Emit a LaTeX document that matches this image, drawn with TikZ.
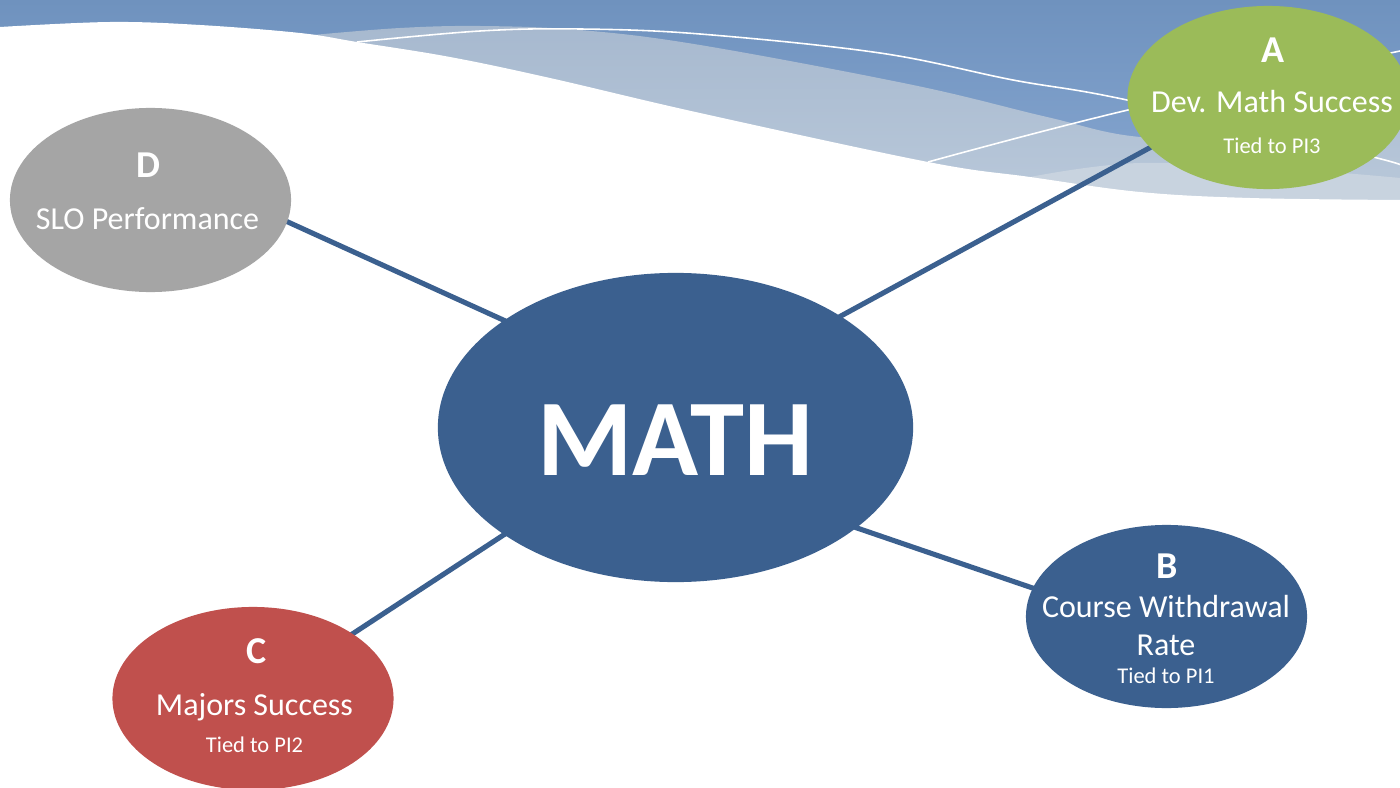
\documentclass[tikz,border=0pt]{standalone}
\usepackage{fontspec}
\setmainfont{Carlito}
\usetikzlibrary{shapes.geometric}
\definecolor{mblue}{HTML}{3B608F}
\definecolor{mgreen}{HTML}{9BBB59}
\definecolor{mred}{HTML}{C0504D}
\definecolor{mgray}{HTML}{A5A5A5}
\definecolor{wtop}{HTML}{6F92BE}
\definecolor{wbot}{HTML}{88A8D2}
\definecolor{bandA}{HTML}{A7B9CF}
\definecolor{bandB}{HTML}{BBCADB}
\definecolor{bandC}{HTML}{C8D3DF}
\pgfdeclarelayer{bg}
\pgfdeclarelayer{lines}
\pgfsetlayers{bg,lines,main}
\tikzset{
  bubble/.style={ellipse, draw=none, inner sep=0pt, outer sep=0pt,
    minimum width=2.81cm, minimum height=1.83cm},
  conn/.style={draw=mblue, line width=1.45pt, shorten <=-10pt, shorten >=-10pt},
  wline/.style={draw=white, line width=0.45pt},
  letter/.style={anchor=base, text=white, inner sep=0pt, font=\fontsize{10.8}{12}\selectfont\bfseries},
  mainlbl/.style={anchor=base, text=white, inner sep=0pt, font=\fontsize{9.1}{11}\selectfont},
  tiedlbl/.style={anchor=base, text=white, inner sep=0pt, font=\fontsize{6.4}{8}\selectfont},
}
\begin{document}
\begin{tikzpicture}[x=0.01cm,y=-0.01cm]
\useasboundingbox (0,0) rectangle (1400,788);
\begin{pgfonlayer}{bg}
\fill[white] (0,0) rectangle (1400,788);
\shade[top color=wtop, bottom color=wbot] (0,0) rectangle (1400,210);
\shade[top color=bandA, bottom color=bandB]
  plot[smooth, tension=0.6] coordinates {(313,35) (400,28) (480,26) (580,30) (700,45) (913,85) (1047,117) (1140,137) (1280,140) (1400,125)}
  -- (1400,220) -- (313,220) -- cycle;
\fill[bandC]
  plot[smooth, tension=0.6] coordinates {(1030,177) (1140,163) (1300,170) (1400,178)}
  -- (1400,220) -- (1030,220) -- cycle;
\fill[white]
  plot[smooth, tension=0.6] coordinates {(0,27) (110,22) (200,25) (300,33) (357,42) (450,57) (550,78) (700,113) (928,162) (1030,177) (1140,192) (1250,198) (1400,200)}
  -- (1400,800) -- (0,800) -- cycle;
\draw[wline] plot[smooth, tension=0.6] coordinates {(357,42) (480,31) (580,29) (700,34) (880,53) (1013,80) (1127,100) (1373,157) (1400,167)};
\draw[wline] plot[smooth, tension=0.6] coordinates {(928,162) (1128,110) (1400,51)};
\end{pgfonlayer}

% ellipses
\node[bubble, fill=mblue, minimum width=4.75cm, minimum height=3.09cm] (M) at (675.5,427.5) {};
\node[bubble, fill=mgreen] (A) at (1268,97.5) {};
\node[bubble, fill=mblue] (B) at (1166.5,616.5) {};
\node[bubble, fill=mred] (C) at (253,698.5) {};
\node[bubble, fill=mgray, minimum height=1.84cm] (D) at (150.5,200) {};

% connectors
\begin{pgfonlayer}{lines}
\draw[conn] (D.-9.6) -- (M.148);
\draw[conn] (M.34.7) -- (A.203);
\draw[conn] (M.-29.5) -- (B.168.4);
\draw[conn] (M.212.9) -- (C.33.1);
\end{pgfonlayer}

% texts
\node[anchor=base, text=white, inner sep=0pt, font=\fontsize{31}{36}\selectfont\bfseries] (Mt) at (675.5,475) {MATH};

\node[letter] (At) at (1273,63) {A};
\node[mainlbl] (At2) at (1272,113) {Dev. Math Success};
\node[tiedlbl] (At3) at (1272,153) {Tied to PI3};

\node[letter] (Bt) at (1167.5,578) {B};
\node[mainlbl] (Bt2) at (1166,617) {Course Withdrawal};
\node[mainlbl] (Bt3) at (1166,655) {Rate};
\node[tiedlbl] (Bt4) at (1166,683) {Tied to PI1};

\node[letter] (Ct) at (257,663) {C};
\node[mainlbl] (Ct2) at (254.5,715) {Majors Success};
\node[tiedlbl] (Ct3) at (254.5,752) {Tied to PI2};

\node[letter] (Dt) at (148.5,178) {D};
\node[mainlbl] (Dt2) at (147.5,229) {SLO Performance};
\end{tikzpicture}
\end{document}
